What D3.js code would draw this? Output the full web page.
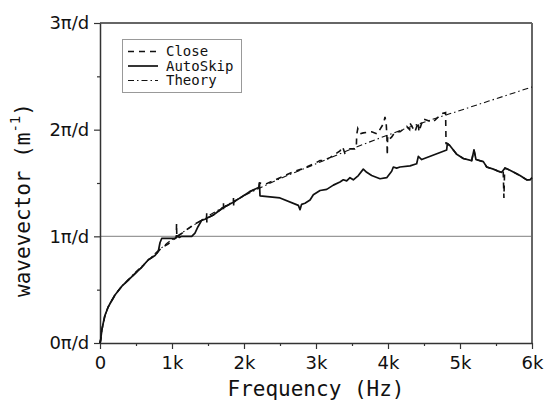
<!DOCTYPE html>
<html><head><meta charset="utf-8">
<script src="https://cdn.jsdelivr.net/npm/d3@7"></script>
<style>body{margin:0;background:#fff}svg{display:block}</style>
</head><body>
<svg id="c" width="547" height="406"></svg>
<script>
// ---------- data (frequency in Hz, wavevector in units of pi/d) ----------
const xTickValues = [0,1000,2000,3000,4000,5000,6000];
const xTickLabels = ["0","1k","2k","3k","4k","5k","6k"];
const yTickValues = [0,1,2,3];
const yTickLabels = ["0\u03c0/d","1\u03c0/d","2\u03c0/d","3\u03c0/d"];
const seriesNames = ["Close","AutoSkip","Theory"];

const theoryF = [0,50,100,200,300,400,500,600,800,1000,1200,1500,2000,2500,3000,3500,4000,4500,5000,5500,6000];
const theoryV = [0,0.2,0.31,0.44,0.53,0.6,0.67,0.73,0.86,0.97,1.06,1.19,1.38,1.54,1.68,1.82,1.95,2.07,2.18,2.29,2.40];

const autoF = [0,10,25,46,69,115,208,301,393,486,579,671,764,810,833,857,950,1042,1080,1100,1135,1274,1319,1361,1412,1458,1482,1574,1713,1852,1968,2083,2208,2215,2222,2500,2755,2778,2800,2847,2917,2963,3056,3149,3241,3333,3379,3426,3472,3518,3588,3657,3704,3773,3889,3982,4051,4074,4120,4167,4306,4398,4421,4435,4468,4815,4824,4861,4954,5046,5162,5194,5222,5324,5371,5463,5532,5579,5625,5694,5833,5926,5972,6000];
const autoV = [0,0.03,0.12,0.19,0.26,0.34,0.45,0.53,0.59,0.65,0.71,0.78,0.82,0.86,0.94,0.98,0.98,0.98,1.0,0.99,1.0,1.0,1.03,1.09,1.15,1.16,1.17,1.20,1.27,1.32,1.37,1.42,1.46,1.50,1.38,1.36,1.29,1.25,1.30,1.31,1.34,1.39,1.43,1.44,1.48,1.51,1.53,1.52,1.55,1.53,1.57,1.63,1.60,1.57,1.54,1.55,1.61,1.65,1.64,1.65,1.66,1.68,1.75,1.74,1.72,1.81,1.87,1.85,1.77,1.73,1.71,1.81,1.72,1.70,1.65,1.63,1.61,1.60,1.64,1.62,1.57,1.53,1.53,1.55];

const closeF = [0,10,25,46,69,115,208,301,393,486,579,671,764,810,850,950,1000,1060,1063,1067,1100,1200,1300,1412,1458,1480,1482,1484,1486,1574,1713,1715,1717,1719,1852,1854,1856,1858,1968,2083,2208,2215,2300,2400,2500,2600,2700,2800,2900,3000,3056,3100,3200,3333,3370,3400,3472,3540,3560,3565,3580,3611,3657,3773,3850,3940,3958,3975,3985,3990,3995,4000,4050,4100,4167,4260,4300,4306,4375,4419,4430,4486,4625,4745,4800,4806,4824,4861,4954,5046,5162,5194,5222,5324,5371,5463,5532,5579,5600,5610,5620,5625,5694,5833,5926,5972,6000];
const closeV = [0,0.03,0.12,0.19,0.26,0.34,0.45,0.53,0.59,0.65,0.71,0.78,0.82,0.86,0.89,0.93,0.96,0.99,1.12,0.99,1.01,1.06,1.11,1.15,1.16,1.17,1.22,1.13,1.17,1.20,1.27,1.31,1.24,1.27,1.32,1.36,1.29,1.32,1.37,1.42,1.46,1.50,1.49,1.52,1.55,1.58,1.61,1.63,1.66,1.69,1.71,1.71,1.74,1.80,1.84,1.78,1.82,1.82,1.83,1.95,2.01,1.96,1.97,1.98,1.96,2.06,2.12,2.06,1.93,1.76,1.93,1.90,1.93,1.98,1.98,2.03,2.00,2.06,1.98,2.07,1.98,2.10,2.07,2.15,2.16,1.87,1.87,1.85,1.77,1.73,1.71,1.81,1.72,1.70,1.65,1.63,1.61,1.60,1.62,1.36,1.63,1.64,1.62,1.57,1.53,1.53,1.55];

// ---------- chart ----------
const svg = d3.select("#c");
const L = 100, R = 532, T = 23, B = 343;
const x = d3.scaleLinear().domain([0,6000]).range([L,R]);
const y = d3.scaleLinear().domain([0,3]).range([B,T]);

// 1pi/d reference line
svg.append("line").attr("x1",L).attr("x2",R).attr("y1",y(1)).attr("y2",y(1))
  .attr("stroke","#999").attr("stroke-width",1.2);

// frame top & right
svg.append("line").attr("x1",L).attr("x2",R).attr("y1",T).attr("y2",T).attr("stroke","#333").attr("stroke-width",1.5);
svg.append("line").attr("x1",R).attr("x2",R).attr("y1",T).attr("y2",B).attr("stroke","#666").attr("stroke-width",2);

// axes
const xAxis = d3.axisBottom(x).tickValues(xTickValues).tickSize(6).tickSizeOuter(0)
  .tickFormat((d,i)=>xTickLabels[i]);
const gx = svg.append("g").attr("transform",`translate(0,${B})`).call(xAxis);
const xMinor = d3.axisBottom(x).tickValues(d3.range(500,6000,1000)).tickSize(3).tickFormat("").tickSizeOuter(0);
svg.append("g").attr("transform",`translate(0,${B})`).call(xMinor).select(".domain").remove();

const yAxis = d3.axisLeft(y).tickValues(yTickValues).tickSize(6).tickSizeOuter(0)
  .tickFormat((d,i)=>yTickLabels[i]);
const gy = svg.append("g").attr("transform",`translate(${L},0)`).call(yAxis);
const yMinor = d3.axisLeft(y).tickValues([0.5,1.5,2.5]).tickSize(3).tickFormat("").tickSizeOuter(0);
svg.append("g").attr("transform",`translate(${L},0)`).call(yMinor).select(".domain").remove();

svg.selectAll(".domain").attr("stroke","#333").attr("stroke-width",1.5);
svg.selectAll(".tick line").attr("stroke","#333").attr("stroke-width",1.2);
gx.selectAll(".tick text").attr("font-family","DejaVu Sans").attr("font-size",18).attr("fill","#111").attr("dy","0.95em");
gy.selectAll(".tick text").attr("font-family","DejaVu Sans").attr("font-size",18).attr("fill","#111").attr("dx","-0.1em");

// series
const mk = (F,V)=>F.map((f,i)=>[f,V[i]]);
const line = d3.line().x(d=>x(d[0])).y(d=>y(d[1]));
const smooth = d3.line().x(d=>x(d[0])).y(d=>y(d[1])).curve(d3.curveMonotoneX);

svg.append("path").datum(mk(theoryF,theoryV)).attr("d",smooth)
  .attr("fill","none").attr("stroke","#111").attr("stroke-width",1.1).attr("stroke-dasharray","6,3,1.5,3");
svg.append("path").datum(mk(closeF,closeV)).attr("d",line)
  .attr("fill","none").attr("stroke","#111").attr("stroke-width",1.6).attr("stroke-dasharray","6,5");
svg.append("path").datum(mk(autoF,autoV)).attr("d",line)
  .attr("fill","none").attr("stroke","#111").attr("stroke-width",1.7).attr("stroke-linejoin","round");

// legend
const lg = svg.append("g");
lg.append("rect").attr("x",122.5).attr("y",39.5).attr("width",119).attr("height",53)
  .attr("fill","#fff").attr("stroke","#999").attr("stroke-width",1);
const dashes = ["6,5",null,"6,3,1.5,3"];
const widths = [1.6,1.7,1.1];
seriesNames.forEach((n,i)=>{
  const yy = 51.5 + i*14.5;
  lg.append("line").attr("x1",128).attr("x2",158).attr("y1",yy).attr("y2",yy)
    .attr("stroke","#111").attr("stroke-width",widths[i]).attr("stroke-dasharray",dashes[i]);
  lg.append("text").attr("x",166).attr("y",yy).attr("dy","0.35em")
    .attr("font-family","DejaVu Sans Mono").attr("font-size",14).attr("fill","#111").text(n);
});

// axis titles
svg.append("text").attr("x",(L+R)/2).attr("y",396).attr("text-anchor","middle")
  .attr("font-family","DejaVu Sans Mono").attr("font-size",21).attr("fill","#111").text("Frequency (Hz)");
const yt = svg.append("text").attr("transform","translate(30,200) rotate(-90)").attr("text-anchor","middle")
  .attr("font-family","DejaVu Sans Mono").attr("font-size",21).attr("fill","#111");
yt.append("tspan").text("wavevector (m");
yt.append("tspan").attr("font-size",14).attr("dy","-0.7em").text("-1");
yt.append("tspan").attr("dy","0.45em").text(")");
</script>
</body></html>
